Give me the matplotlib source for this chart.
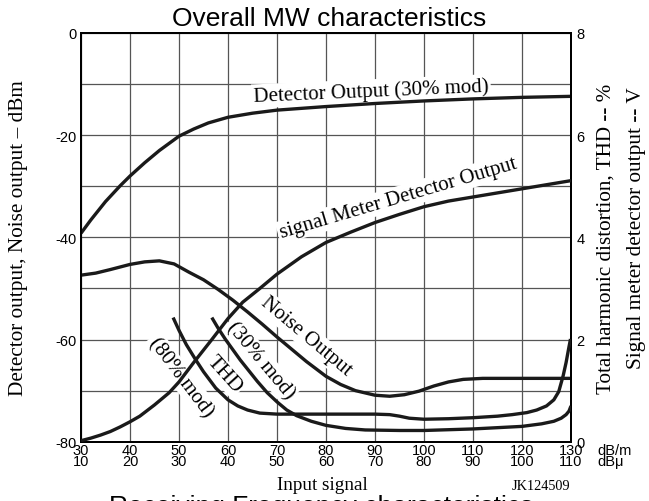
import matplotlib
matplotlib.use('agg')
import matplotlib.pyplot as plt

# Fonts: sans for titles and ticks, serif for axis and curve labels
SANS = 'Liberation Sans'
SERIF = 'Liberation Serif'

# Input signal axis (dB/m on top row, dBu on bottom row)
x_ticks = [30, 40, 50, 60, 70, 80, 90, 100, 110, 120, 130]
x_ticks_dbu = [10, 20, 30, 40, 50, 60, 70, 80, 90, 100, 110]

# Detector output (30% mod), dBm
x_det = [30, 32, 35, 38, 40, 43, 46, 50, 53, 56, 60, 65, 70, 80, 90, 100, 110, 120, 130]
det_out = [-39.2, -36.6, -33.0, -29.9, -28.0, -25.4, -23.0, -20.2, -18.8, -17.6,
           -16.5, -15.7, -15.1, -14.4, -13.8, -13.3, -12.9, -12.6, -12.4]

# Noise output, dBm
x_noise = [30, 33, 36, 40, 43, 46, 49, 52, 55, 58, 61, 64, 67, 70, 73, 76, 80,
           83, 86, 90, 93, 96, 99, 102, 105, 108, 112, 120, 130]
noise_out = [-47.4, -47.0, -46.3, -45.3, -44.8, -44.6, -45.2, -46.8, -48.3, -50.2,
             -52.3, -54.6, -57.0, -59.5, -61.9, -64.3, -67.2, -68.8, -70.0, -70.9,
             -71.1, -70.8, -70.1, -69.1, -68.3, -67.8, -67.6, -67.6, -67.6]

# Signal meter detector output, V
x_sig = [30, 32, 34, 36, 38, 40, 42, 45, 48, 50, 53, 56.7, 60, 63, 66.5, 70, 75,
         80, 85, 90, 95, 100, 105, 110, 115, 120, 125, 130]
sig_out = [0.02, 0.07, 0.13, 0.20, 0.29, 0.39, 0.50, 0.72, 0.96, 1.17, 1.55, 2.00,
           2.41, 2.73, 3.00, 3.28, 3.62, 3.90, 4.10, 4.29, 4.45, 4.60, 4.71, 4.79,
           4.87, 4.95, 5.03, 5.11]

# THD (80% mod), %
x_thd80 = [48.8, 50, 51.5, 53.3, 55, 57.5, 60, 62, 64, 66.5, 70, 80, 90, 93, 95,
           97, 100, 105, 110, 115, 118, 121, 123, 125, 126.5, 127.5, 128.4, 129,
           129.5, 129.9]
thd80 = [2.43, 2.18, 1.90, 1.62, 1.37, 1.05, 0.82, 0.70, 0.62, 0.56, 0.54, 0.54,
         0.54, 0.53, 0.50, 0.46, 0.44, 0.45, 0.47, 0.50, 0.53, 0.57, 0.62, 0.70,
         0.82, 0.98, 1.29, 1.55, 1.81, 2.01]

# THD (30% mod), %
x_thd30 = [56.7, 58, 59.5, 61, 62.5, 64, 66, 68, 70, 72, 74, 77, 80, 84, 88, 95,
           100, 110, 120, 124, 126.5, 128, 129, 129.6, 130]
thd30 = [2.43, 2.22, 2.00, 1.80, 1.60, 1.42, 1.18, 0.96, 0.78, 0.62, 0.51, 0.40,
         0.32, 0.26, 0.23, 0.22, 0.22, 0.25, 0.30, 0.35, 0.40, 0.46, 0.53, 0.60, 0.70]

fig = plt.figure(figsize=(6.49, 5.02), dpi=100)
ax = fig.add_axes([0.1248, 0.1181, 0.7550, 0.8142])
ax2 = ax.twinx()

# Left axis: dBm, grid every 10, labels every 20
ax.set_xlim(30, 130)
ax.set_ylim(-80, 0)
ax.set_xticks(x_ticks)
ax.set_xticklabels(['%d\n%d' % (a, b) for a, b in zip(x_ticks, x_ticks_dbu)],
                   fontfamily=SANS, fontsize=10.5)
for lbl in ax.get_xticklabels():
    lbl.set_linespacing(0.72)
yt = list(range(-80, 1, 10))
ax.set_yticks(yt)
ax.set_yticklabels([str(v) if v % 20 == 0 else '' for v in yt],
                   fontfamily=SANS, fontsize=10.5)
ax.tick_params(axis='y', length=0, pad=3.5)
ax.tick_params(axis='x', length=0, pad=1)
ax.set_axisbelow(True)
ax.grid(True, color='#555555', lw=0.9)

# Right axis: % and V
ax2.set_ylim(0, 8)
ax2.set_yticks([0, 2, 4, 6, 8])
ax2.set_yticklabels(['0', '2', '4', '6', '8'], fontfamily=SANS, fontsize=10.5)
ax2.tick_params(length=0, pad=4)

for a in (ax, ax2):
    for s in a.spines.values():
        s.set_linewidth(1.4)
        s.set_color('black')

# Curves
lw = 2.4
col = '#1a1a1a'
ax.plot(x_det, det_out, color=col, lw=lw, zorder=3, solid_capstyle='butt')
ax.plot(x_noise, noise_out, color=col, lw=lw, zorder=3, solid_capstyle='butt')
ax2.plot(x_sig, sig_out, color=col, lw=lw, zorder=3, solid_capstyle='butt')
ax2.plot(x_thd80, thd80, color=col, lw=lw, zorder=3, solid_capstyle='butt')
ax2.plot(x_thd30, thd30, color=col, lw=lw, zorder=3, solid_capstyle='butt')

# Curve labels with white boxes that break the grid
box = dict(boxstyle='square,pad=0.1', fc='white', ec='none')
def label(x, y, s, rot):
    ax.text(x, y, s, rotation=rot, rotation_mode='anchor', ha='center', va='center',
            fontfamily=SERIF, fontsize=15, bbox=box, zorder=2.5)

label(89.2, -11.4, 'Detector Output (30% mod)', 2.5)
label(94.7, -32.3, 'signal Meter Detector Output', 16.5)
label(75.9, -59.3, 'Noise Output', -40)
label(66.5, -64.0, '(30% mod)', -50)
label(59.2, -66.7, 'THD', -48)
label(50.4, -67.3, '(80% mod)', -53)

# Units beside the x tick labels
ax.annotate('dB/m\ndBμ', xy=(130, -80), xytext=(19, -1), textcoords='offset points',
            ha='left', va='top', fontfamily=SANS, fontsize=10.5, linespacing=0.72,
            annotation_clip=False)

# Axis titles
fig.text(0.028, 0.526, 'Detector output, Noise output – dBm', rotation=90,
         ha='center', va='center', fontfamily=SERIF, fontsize=15.3)
fig.text(0.934, 0.524, 'Total harmonic distortion, THD -- %', rotation=90,
         ha='center', va='center', fontfamily=SERIF, fontsize=15.2)
fig.text(0.980, 0.546, 'Signal meter detector output -- V', rotation=90,
         ha='center', va='center', fontfamily=SERIF, fontsize=15.3)
fig.text(0.496, 0.024, 'Input signal', ha='center', va='baseline',
         fontfamily=SERIF, fontsize=13.8)
fig.text(0.834, 0.024, 'JK124509', ha='center', va='baseline',
         fontfamily=SERIF, fontsize=10.3)

fig.text(0.507, 0.949, 'Overall MW characteristics', ha='center', va='baseline',
         fontfamily=SANS, fontsize=19)
fig.text(0.495, -0.024, 'Receiving Frequency characteristics', ha='center',
         va='baseline', fontfamily=SANS, fontsize=19)

plt.savefig('out.png', dpi=100)
